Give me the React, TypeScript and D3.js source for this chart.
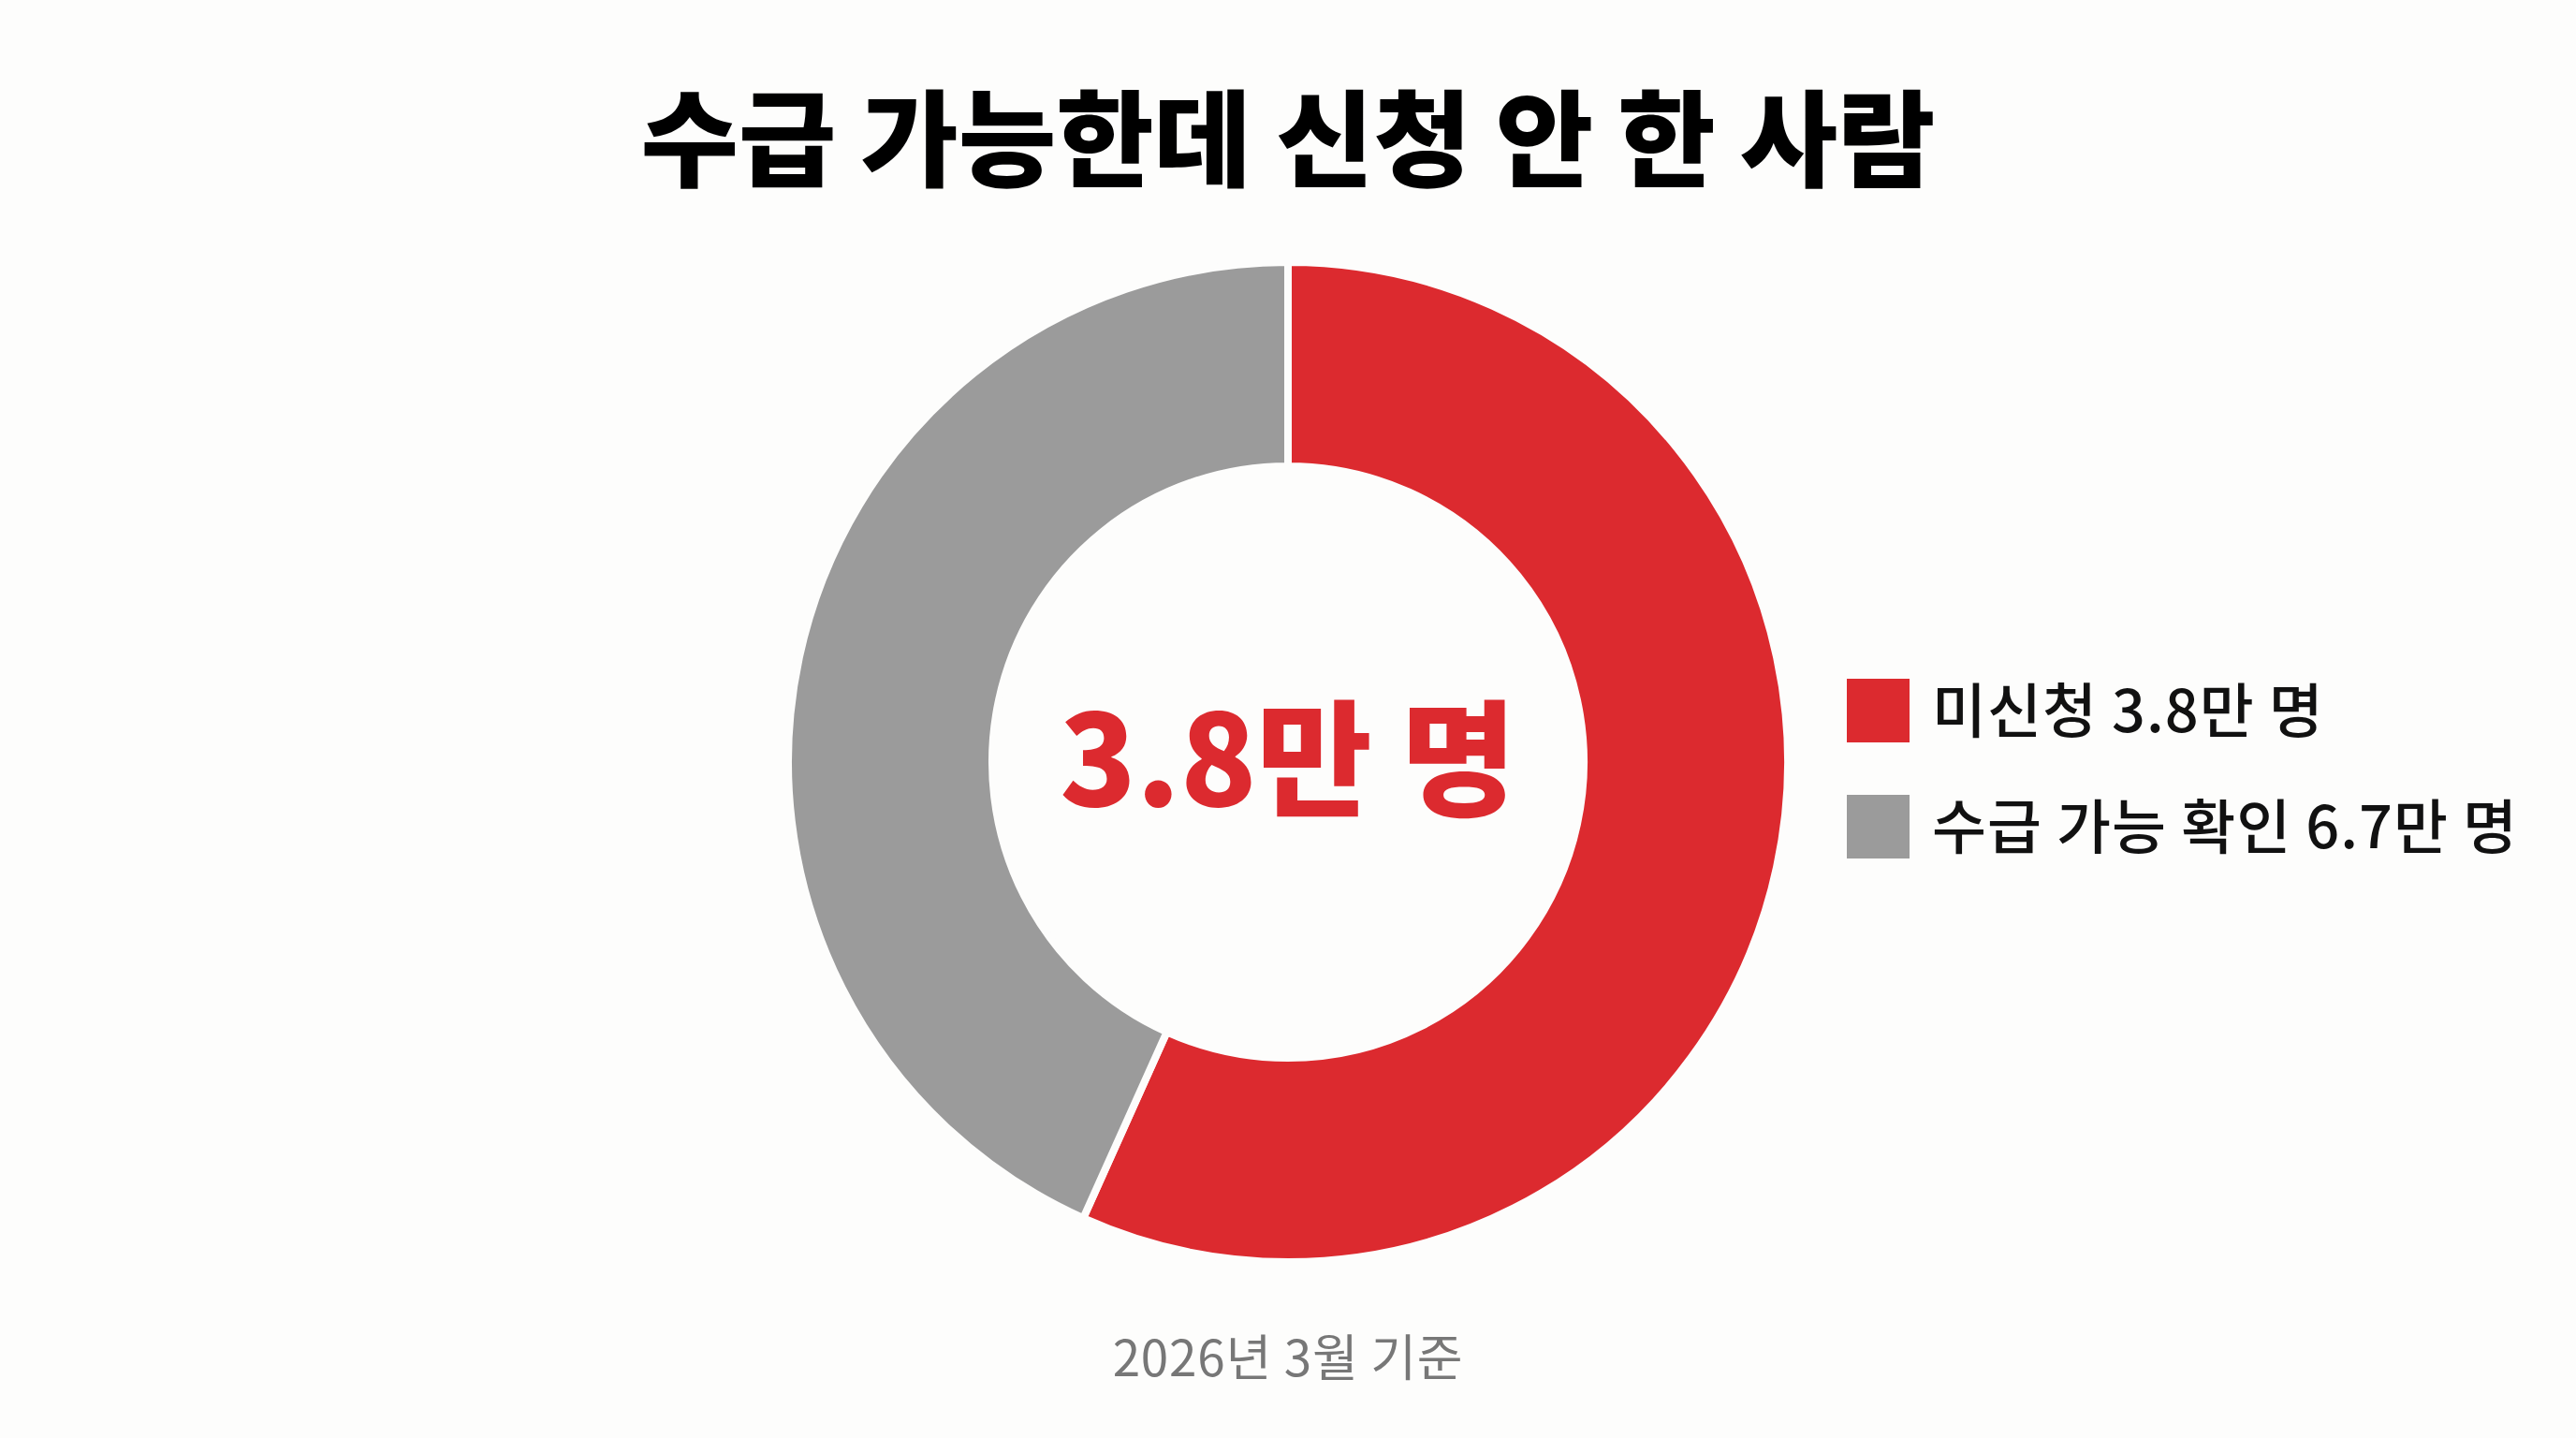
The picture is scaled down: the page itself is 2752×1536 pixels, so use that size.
import React, { FC, useEffect, useRef } from "react"
import { arc, pie, PieArcDatum, select } from "d3"

// data
const title = "수급 가능한데 신청 안 한 사람"
const footnote = "2026년 3월 기준"
const unit = "만 명"
const seriesNames = ["미신청", "수급 가능 확인"]
const seriesValues = [3.8, 6.7] // 미신청, 수급 가능 확인 (총계)
const seriesColors = ["#dc2a2f", "#9b9b9b"]

type Slice = { name: string; value: number; color: string }

const W = 2752
const H = 1536
const FONT = "'Noto Sans CJK KR', 'Noto Sans', sans-serif"

const App: FC = () => {
  const svgRef = useRef<SVGSVGElement>(null)

  useEffect(() => {
    document.body.style.margin = "0"
    const element = svgRef.current
    if (!element) return
    const svg = select(element)
    svg.selectAll("*").remove()

    svg.append("rect").attr("width", W).attr("height", H).attr("fill", "#fdfdfc")

    // title
    svg
      .append("text")
      .text(title)
      .attr("x", W / 2)
      .attr("y", 191)
      .attr("text-anchor", "middle")
      .attr("font-family", FONT)
      .attr("font-weight", 900)
      .attr("font-size", 112)
      .attr("textLength", 1383)
      .attr("lengthAdjust", "spacingAndGlyphs")
      .attr("fill", "#000")

    // donut
    const cx = 1376
    const cy = 814
    const slices: Slice[] = [
      { name: seriesNames[0], value: seriesValues[0], color: seriesColors[0] },
      {
        name: seriesNames[1],
        value: seriesValues[1] - seriesValues[0],
        color: seriesColors[1],
      },
    ]
    const pieGen = pie<Slice>()
      .sort(null)
      .value((d) => d.value)
    const arcGen = arc<PieArcDatum<Slice>>().innerRadius(316).outerRadius(534)

    const g = svg.append("g").attr("transform", `translate(${cx},${cy})`)
    g.selectAll("path")
      .data(pieGen(slices))
      .join("path")
      .attr("d", arcGen)
      .attr("fill", (d) => d.data.color)
      .attr("stroke", "#fdfdfc")
      .attr("stroke-width", 8)

    g.append("text")
      .text(`${seriesValues[0]}${unit}`)
      .attr("x", 0)
      .attr("y", 47)
      .attr("text-anchor", "middle")
      .attr("font-family", FONT)
      .attr("font-weight", 900)
      .attr("font-size", 134)
      .attr("fill", seriesColors[0])

    // legend
    const legend = svg.append("g").attr("transform", "translate(1973,725)")
    const rows = legend
      .selectAll("g")
      .data(seriesNames)
      .join("g")
      .attr("transform", (_, i) => `translate(0,${i * 124})`)
    rows
      .append("rect")
      .attr("width", 67)
      .attr("height", 68)
      .attr("fill", (_, i) => seriesColors[i])
    rows
      .append("text")
      .text((d, i) => `${d} ${seriesValues[i]}${unit}`)
      .attr("x", 91)
      .attr("y", 34)
      .attr("dy", "0.36em")
      .attr("font-family", FONT)
      .attr("font-weight", 500)
      .attr("font-size", 63)
      .attr("letter-spacing", 1)
      .attr("fill", "#111")

    // footnote
    svg
      .append("text")
      .text(footnote)
      .attr("x", W / 2)
      .attr("y", 1451)
      .attr("dy", "0.36em")
      .attr("text-anchor", "middle")
      .attr("font-family", FONT)
      .attr("font-weight", 400)
      .attr("font-size", 53)
      .attr("letter-spacing", 0.8)
      .attr("fill", "#777")
  }, [])

  return (
    <svg
      ref={svgRef}
      width={W}
      height={H}
      style={{ display: "block" }}
    />
  )
}

export default App
